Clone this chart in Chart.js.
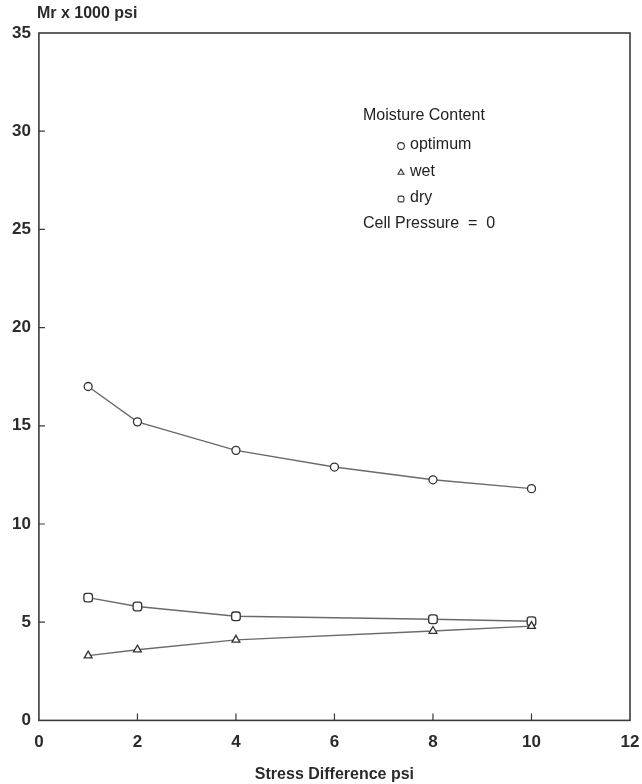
<!DOCTYPE html>
<html>
<head>
<meta charset="utf-8">
<script src="https://cdn.jsdelivr.net/npm/chart.js@4.4.0/dist/chart.umd.min.js"></script>
<style>
  body { margin: 0; background: #fff; }
  #wrap { width: 642px; height: 784px; }
</style>
</head>
<body>
<div id="wrap"><canvas id="mrChart" width="642" height="784"></canvas></div>
<script>
// stress difference (psi)
const stressX = [1, 2, 4, 6, 8, 10];
const stressXShort = [1, 2, 4, 8, 10];
// resilient modulus, Mr x 1000 psi
const optimumMr = [17.0, 15.2, 13.75, 12.9, 12.25, 11.8];
const wetMr = [3.3, 3.6, 4.1, 4.55, 4.8];
const dryMr = [6.25, 5.8, 5.3, 5.15, 5.05];

const xTicks = [0, 2, 4, 6, 8, 10, 12];
const yTicks = [0, 5, 10, 15, 20, 25, 30, 35];

const legendTitle = 'Moisture Content';
const legendNames = ['optimum', 'wet', 'dry'];
const legendNote = 'Cell Pressure  =  0';

const ink = '#2b2b2b';
const lineInk = '#6a6a6a';
const boldFont = '"Liberation Sans", Arial, sans-serif';

function toPoints(xs, ys) {
    return xs.map(function (x, i) { return { x: x, y: ys[i] }; });
}

function series(label, xs, ys, style, radius) {
    return {
        label: label,
        data: toPoints(xs, ys),
        showLine: true,
        borderColor: lineInk,
        borderWidth: 1.4,
        pointStyle: style,
        pointRadius: radius,
        pointBackgroundColor: '#fff',
        pointBorderColor: '#333',
        pointBorderWidth: 1.3,
        tension: 0
    };
}

// box around plot + small inward ticks + legend text block
const frameAndNotes = {
    id: 'frameAndNotes',
    afterDraw: function (chart) {
        const ctx = chart.ctx;
        const a = chart.chartArea;
        const xs = chart.scales.x, ys = chart.scales.y;
        ctx.save();
        ctx.strokeStyle = '#3a3a3a';
        ctx.lineWidth = 1.6;
        ctx.strokeRect(a.left, a.top, a.right - a.left, a.bottom - a.top);

        ctx.lineWidth = 1.2;
        ctx.beginPath();
        xTicks.forEach(function (v) {
            if (v === xTicks[0] || v === xTicks[xTicks.length - 1]) return;
            const px = xs.getPixelForValue(v);
            ctx.moveTo(px, a.bottom);
            ctx.lineTo(px, a.bottom - 7);
        });
        yTicks.forEach(function (v) {
            if (v === yTicks[0] || v === yTicks[yTicks.length - 1]) return;
            const py = ys.getPixelForValue(v);
            ctx.moveTo(a.left, py);
            ctx.lineTo(a.left + 6, py);
        });
        ctx.stroke();

        // y axis caption above the axis
        ctx.fillStyle = ink;
        ctx.font = 'bold 16px ' + boldFont;
        ctx.textAlign = 'left';
        ctx.textBaseline = 'middle';
        ctx.fillText('Mr x 1000 psi', a.left - 2, a.top - 19);

        // legend
        ctx.font = '16px ' + boldFont;
        const lx = 363;
        ctx.fillStyle = '#222';
        ctx.fillText(legendTitle, lx, 116);
        const styles = ['circle', 'triangle', 'rectRounded'];
        legendNames.forEach(function (name, i) {
            const y = 145 + i * 26.5;
            ctx.strokeStyle = '#333';
            ctx.fillStyle = '#fff';
            ctx.lineWidth = 1.1;
            Chart.helpers.drawPoint(ctx, { pointStyle: styles[i], radius: 3.4, borderWidth: 1.1 }, 401, y + 1);
            ctx.fillStyle = '#222';
            ctx.fillText(name, 410, y);
        });
        ctx.fillText(legendNote, lx, 224);
        ctx.restore();
    }
};

new Chart(document.getElementById('mrChart'), {
    type: 'scatter',
    data: {
        datasets: [
            series('optimum', stressX, optimumMr, 'circle', 4),
            series('wet', stressXShort, wetMr, 'triangle', 4.5),
            series('dry', stressXShort, dryMr, 'rectRounded', 5)
        ]
    },
    options: {
        responsive: false,
        animation: false,
        layout: { padding: { top: 33, right: 12, left: 4, bottom: 0 } },
        plugins: {
            legend: { display: false },
            tooltip: { enabled: false }
        },
        scales: {
            x: {
                type: 'linear',
                min: 0,
                max: 12,
                afterBuildTicks: function (axis) {
                    axis.ticks = xTicks.map(function (v) { return { value: v }; });
                },
                afterFit: function (axis) {
                    axis.paddingLeft = 0;
                    axis.paddingRight = 0;
                },
                grid: { display: false, drawTicks: false },
                border: { display: false },
                ticks: {
                    color: ink,
                    padding: 12,
                    maxRotation: 0,
                    font: { family: boldFont, size: 17, weight: 'bold' }
                },
                title: {
                    display: true,
                    text: 'Stress Difference psi',
                    color: ink,
                    padding: { top: 0, bottom: 0 },
                    font: { family: boldFont, size: 16, weight: 'bold' }
                }
            },
            y: {
                min: 0,
                max: 35,
                afterBuildTicks: function (axis) {
                    axis.ticks = yTicks.map(function (v) { return { value: v }; });
                },
                afterFit: function (axis) {
                    axis.paddingTop = 0;
                    axis.paddingBottom = 0;
                },
                grid: { display: false, drawTicks: false },
                border: { display: false },
                ticks: {
                    color: ink,
                    padding: 8,
                    font: { family: boldFont, size: 17, weight: 'bold' }
                }
            }
        }
    },
    plugins: [frameAndNotes]
});
</script>
</body>
</html>
